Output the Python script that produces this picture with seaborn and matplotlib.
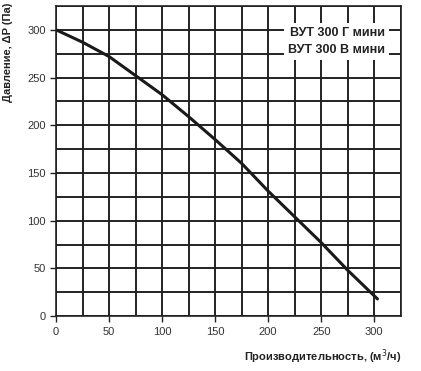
import numpy as np
import pandas as pd
import matplotlib
matplotlib.use('Agg')
import matplotlib.pyplot as plt
import seaborn as sns

# Dados da curva
flow = [0, 25, 50, 75, 100, 125, 150, 175, 200, 225, 250, 275, 303]
pressure = [300, 287, 272, 252, 232, 209, 185, 160, 131, 104, 77, 48, 18]
labels = ['ВУТ 300 Г мини', 'ВУТ 300 В мини']

sns.set_style('white')
plt.rcParams['font.family'] = ['Liberation Sans', 'DejaVu Sans']

df = pd.DataFrame({'flow': flow, 'pressure': pressure})

fig = plt.figure(figsize=(4.21, 3.71), dpi=100)
ax = fig.add_axes([0.133, 0.148, 0.819, 0.836])

ax.set_xlim(0, 325)
ax.set_ylim(0, 325)
ax.set_xticks(np.arange(0, 301, 50))
ax.set_yticks(np.arange(0, 301, 50))
ax.set_xticks(np.arange(0, 326, 25), minor=True)
ax.set_yticks(np.arange(0, 326, 25), minor=True)
ax.grid(True, which='both', color='#222222', linewidth=1.4)
ax.set_axisbelow(True)

sns.lineplot(data=df, x='flow', y='pressure', ax=ax, color='#1a1a1a', linewidth=2.2)

for s in ax.spines.values():
    s.set_color('#222222')
    s.set_linewidth(1.2)

ax.tick_params(axis='both', which='major', length=4, width=1, colors='#222222',
               labelsize=8, labelcolor='#333333', direction='out')
ax.tick_params(axis='both', which='minor', length=0)
ax.xaxis.set_ticks_position('bottom')
ax.yaxis.set_ticks_position('left')

ax.set_xlabel('Производительность, (м$^3$/ч)', fontsize=8, fontweight='bold',
              color='#222222', loc='right', labelpad=8)
ax.set_ylabel('Давление, ΔP (Па)', fontsize=8, fontweight='bold', color='#222222')
ax.yaxis.set_label_coords(-0.125, 0.85)

ax.text(0.955, 0.885, '\n'.join(labels), transform=ax.transAxes, ha='right', va='center',
        fontsize=9, fontweight='bold', color='#222222', linespacing=1.55,
        bbox=dict(facecolor='white', edgecolor='none', pad=3))

fig.savefig('out.png', dpi=100)
